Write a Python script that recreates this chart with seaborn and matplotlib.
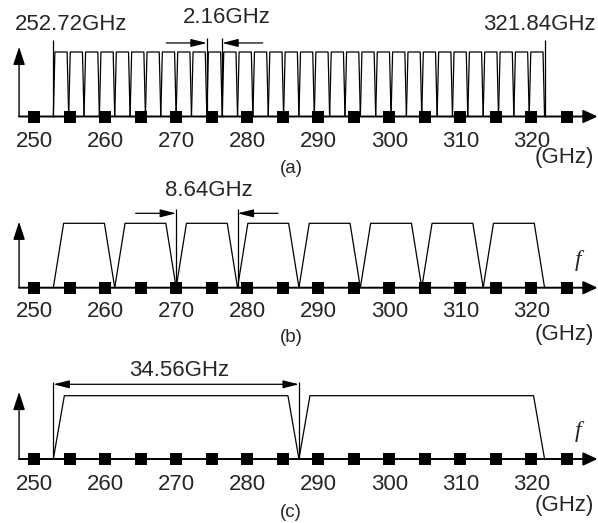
import numpy as np
import pandas as pd
import matplotlib
matplotlib.use("Agg")
import matplotlib.pyplot as plt
import seaborn as sns

# ---------------- data ----------------
band_start_ghz = 252.72
band_end_ghz = 321.84
channel_widths_ghz = [2.16, 8.64, 34.56]
dimension_texts = ["2.16GHz", "8.64GHz", "34.56GHz"]
dimension_channel_index = [10, 2, 0]
panel_labels = ["(a)", "(b)", "(c)"]
edge_labels = ["252.72GHz", "321.84GHz"]
marker_freqs = [250, 255, 260, 265, 270, 275, 280, 285, 290, 295, 300, 305, 310, 315, 320, 325]
tick_freqs = [250, 260, 270, 280, 290, 300, 310, 320]
tick_labels = ["250", "260", "270", "280", "290", "300", "310", "320"]
channel_level = 1.0

# ---------------- style / layout ----------------
sns.set_style("white")
plt.rcParams["font.family"] = ["Liberation Sans", "DejaVu Sans"]

W, H = 598, 523
fig = plt.figure(figsize=(W / 100, H / 100), dpi=100)
x0_px, px_per_ghz = 34.0, 7.107
xlim = (250 - x0_px / px_per_ghz, 250 + (W - x0_px) / px_per_ghz)
axis_x = 247.9
axis_end = 329.29

layout = [
    dict(base=116.5, s=64.5, top=0, bot=174, inset=0.22, tick_y=-0.395, ghz_y=-0.643,
         lab_y=-0.80, dim_top=1.217, arrow_y=1.14, dtext_x=277.1, dtext_y=1.53, tip=1.08, f_y=None),
    dict(base=287.7, s=64.4, top=174, bot=348, inset=1.45, tick_y=-0.377, ghz_y=-0.734,
         lab_y=-0.766, dim_top=1.222, arrow_y=1.155, dtext_x=274.63, dtext_y=1.514, tip=1.025, f_y=0.43),
    dict(base=459.0, s=63.3, top=348, bot=523, inset=1.55, tick_y=-0.41, ghz_y=-0.727,
         lab_y=-0.853, dim_top=1.22, arrow_y=1.18, dtext_x=270.4, dtext_y=1.395, tip=1.06, f_y=0.427),
]

FS = 16
small_head = dict(arrowstyle="-|>,head_length=0.6,head_width=0.15", mutation_scale=16,
                  color="black", lw=0.9, shrinkA=0, shrinkB=0)

for i, L in enumerate(layout):
    ax = fig.add_axes([0, 1 - L["bot"] / H, 1, (L["bot"] - L["top"]) / H])
    ax.set_xlim(*xlim)
    ax.set_ylim((L["base"] - L["bot"]) / L["s"], (L["base"] - L["top"]) / L["s"])
    ax.axis("off")

    w = channel_widths_ghz[i]
    n = int(round((band_end_ghz - band_start_ghz) / w))
    rows = []
    for k in range(n):
        lo = band_start_ghz + k * w
        hi = lo + w
        ins = L["inset"]
        for order, (fx, fy) in enumerate([(lo, 0), (lo + ins, channel_level),
                                          (hi - ins, channel_level), (hi, 0)]):
            rows.append(dict(ch=k, order=order, f=fx, level=fy))
    df = pd.DataFrame(rows)
    sns.lineplot(data=df, x="f", y="level", units="ch", estimator=None, sort=False,
                 color="black", lw=0.9, ax=ax, legend=False)

    # axes arrows
    ax.annotate("", xy=(axis_x, L["tip"]), xytext=(axis_x, 0),
                arrowprops=dict(arrowstyle="-|>,head_length=0.55,head_width=0.18", mutation_scale=20,
                                color="black", lw=1.0, shrinkA=0, shrinkB=0))
    ax.annotate("", xy=(axis_end, 0), xytext=(axis_x, 0),
                arrowprops=dict(arrowstyle="-|>,head_length=0.43,head_width=0.2", mutation_scale=20,
                                color="black", lw=1.4, shrinkA=0, shrinkB=0))

    # markers
    sns.scatterplot(x=marker_freqs, y=[0] * len(marker_freqs), marker="s", s=70,
                    color="black", edgecolor="black", linewidth=0, ax=ax, zorder=5, legend=False)

    # tick labels
    for tf, tl in zip(tick_freqs, tick_labels):
        ax.text(tf, L["tick_y"], tl, ha="center", va="center", fontsize=FS)
    ax.text(324.6, L["ghz_y"], "(GHz)", ha="center", va="center", fontsize=FS)
    ax.text(286.2, L["lab_y"], panel_labels[i], ha="center", va="center", fontsize=13.5)

    # dimension lines
    j = dimension_channel_index[i]
    lo = band_start_ghz + j * w
    hi = lo + w
    ax.vlines([lo, hi], 0, L["dim_top"], color="black", lw=0.9)
    if i < 2:
        ax.annotate("", xy=(lo, L["arrow_y"]), xytext=(lo - 5.7, L["arrow_y"]), arrowprops=small_head)
        ax.annotate("", xy=(hi, L["arrow_y"]), xytext=(hi + 5.7, L["arrow_y"]), arrowprops=small_head)
    else:
        ax.annotate("", xy=(hi, L["arrow_y"]), xytext=(lo, L["arrow_y"]),
                    arrowprops=dict(small_head, arrowstyle="<|-|>,head_length=0.6,head_width=0.15"))
    ax.text(L["dtext_x"], L["dtext_y"], dimension_texts[i], ha="center", va="center", fontsize=FS)

    if i == 0:
        ax.vlines([band_start_ghz, band_end_ghz], 0, 1.186, color="black", lw=0.9)
        ax.text(255.28, 1.42, edge_labels[0], ha="center", va="center", fontsize=FS)
        ax.text(329.1, 1.42, edge_labels[1], ha="right", va="center", fontsize=FS)
    if L["f_y"] is not None:
        ax.text(326.55, L["f_y"], "f", ha="center", va="center", fontsize=17,
                family="Liberation Serif", style="italic")

fig.savefig("out.png", dpi=100)
